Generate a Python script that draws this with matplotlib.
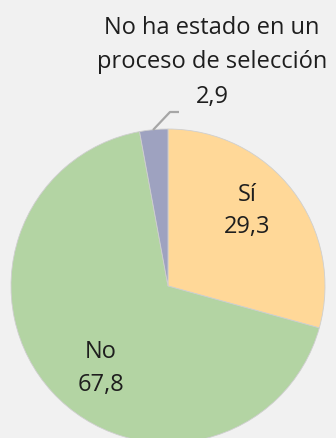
import matplotlib.pyplot as plt

plt.rcParams['font.family'] = ['Open Sans', 'DejaVu Sans']

labels = ["Sí", "No", "No ha estado en un\nproceso de selección"]
values = [29.3, 67.8, 2.9]
colors = ["#FFD898", "#B3D4A3", "#9EA2C0"]

W, H = 336, 438
fig = plt.figure(figsize=(W / 100, H / 100), dpi=100)
fig.patch.set_facecolor("#F1F1F1")
ax = fig.add_axes([0, 0, 1, 1])
ax.set_facecolor("#F1F1F1")

# pixel-style coordinates measured from the top-left corner
def py(y):
    return H - y

cx, cy, r = 168, 286, 157
ax.pie(values, colors=colors, startangle=90, counterclock=False,
       center=(cx, py(cy)), radius=r, frame=True,
       wedgeprops=dict(linewidth=0.6, edgecolor="#CFCFCF"))
ax.set_xlim(0, W)
ax.set_ylim(0, H)
ax.set_aspect("equal")
ax.axis("off")

def fmt(v):
    return f"{v:.1f}".replace(".", ",")

txt = dict(ha="center", va="center", fontsize=17, color="#1E1E1E")
ax.text(247, py(195), labels[0], **txt)
ax.text(247, py(227), fmt(values[0]), **txt)
ax.text(101, py(352), labels[1], **txt)
ax.text(101, py(385), fmt(values[1]), **txt)
line1, line2 = labels[2].split("\n")
ax.text(212, py(28), line1, **txt)
ax.text(212, py(62), line2, **txt)
ax.text(212, py(97), fmt(values[2]), **txt)

# leader line for the small slice
ax.plot([153, 170, 179], [py(130), py(112), py(112)], color="#A6A6A6", lw=1.6,
        solid_capstyle="butt")

fig.savefig("out.png", dpi=100, facecolor=fig.get_facecolor())
